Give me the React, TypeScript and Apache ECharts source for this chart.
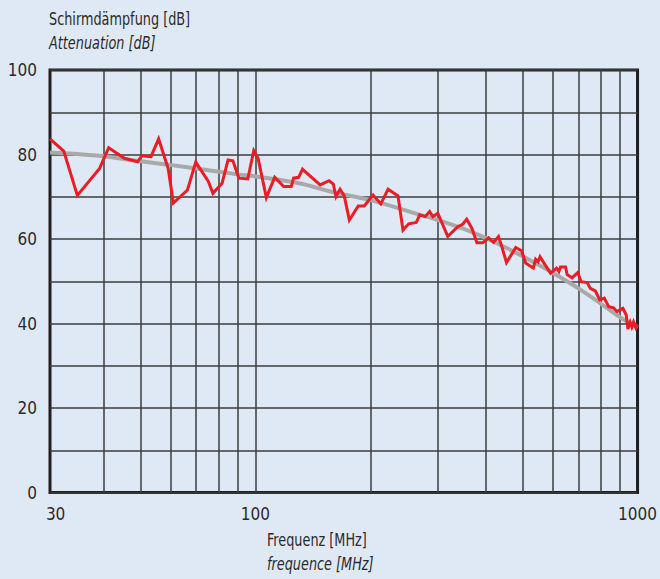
import React, { useEffect, useRef } from "react";
import * as echarts from "echarts";

// Measured attenuation curve (frequency in MHz, attenuation in dB)
const redFreq = [
  29, 31.5, 34.2, 39.1, 41.3, 45.4, 49.2, 50.4, 53.3, 55.8, 59.1, 61.0, 66.4, 69.8, 75.3, 77.4,
  81.8, 84.8, 87.3, 90.5, 95.5, 99.0, 101.6, 106.8, 112.3, 118.5, 124.1, 125.8, 129.7, 132.8,
  147.7, 155.8, 159.9, 162.5, 166.5, 170.8, 176.1, 185.8, 192.6, 203.2, 212.9, 222.4, 236.1,
  243.3, 251.8, 263.6, 269.0, 278.2, 285.6, 291.3, 300.1, 318.7, 338.4, 348.7, 357.2, 368.7,
  379.9, 393.1, 407.5, 419.9, 432.7, 441.4, 454.0, 480.0, 497.0, 509.6, 533.6, 541.1, 549.0,
  555.6, 569.1, 592.1, 613.8, 622.7, 628.7, 647.8, 654.4, 674.3, 697.8, 711.6, 737.9, 752.6,
  775.5, 796.2, 818.5, 840.4, 866.0, 883.4, 915.7, 934.1, 943.6, 956.6, 966.3, 976.3, 989.9, 1000,
];
const redValues = [
  83.7, 80.8, 70.3, 76.7, 81.6, 79.1, 78.3, 79.7, 79.5, 83.7, 76.7, 68.5, 71.6, 78.2, 73.6, 70.8,
  73.2, 78.7, 78.5, 74.4, 74.2, 80.9, 79.1, 69.8, 74.6, 72.4, 72.4, 74.4, 74.6, 76.5,
  72.8, 73.8, 73.0, 70.0, 71.8, 70.2, 64.5, 67.8, 67.8, 70.4, 68.3, 71.8, 70.2,
  62.1, 63.6, 63.9, 65.7, 65.3, 66.5, 65.3, 66.1, 60.6, 62.9, 63.5, 64.7, 62.5,
  59.1, 59.1, 60.3, 59.2, 60.6, 58.2, 54.4, 58.0, 57.2, 54.3, 53.1, 55.2, 54.6,
  55.8, 54.3, 51.9, 53.1, 52.3, 53.4, 53.4, 51.6, 50.8, 52.1, 49.9, 49.7, 48.3,
  47.7, 45.6, 46.0, 44.0, 43.7, 42.8, 43.6, 42.0, 38.7, 40.3, 39.2, 40.4, 39.0, 39.8,
];

// Smoothed trend curve
const trendFreq = [29, 39, 49, 59, 70, 90, 100, 130, 158, 200, 266, 300, 374, 456, 500, 592, 723, 883, 1000];
const trendValues = [80.5, 79.7, 78.5, 77.6, 76.7, 75.3, 74.8, 73.2, 71.2, 69.2, 65.9, 64.5, 61.4, 57.8, 55.9, 52.3, 47.5, 42.0, 38.9];

// Axis configuration
const freqMin = 29;
const freqMax = 1000;
const gridFreqs = [40, 50, 60, 70, 80, 90, 100, 200, 300, 400, 500, 600, 700, 800, 900];
const freqLabels = [30, 100, 1000];
const yTickLabels = [0, 20, 40, 60, 80, 100];

const FONT = "'Liberation Sans Narrow', 'DejaVu Sans Condensed', 'Roboto Condensed', 'Liberation Sans', sans-serif";
const TEXT = "#2a2a2a";
const BG = "#dfe9f6";
const SX = 0.84;

export default function App() {
  const ref = useRef<HTMLDivElement>(null);
  useEffect(() => {
    document.body.style.margin = "0";
    if (!ref.current) return;
    const chart = echarts.init(ref.current, undefined, { renderer: "svg" });
    const lg = (f: number) => Math.log10(f);
    const label = (text: string, x: number, y: number, italic: boolean) => ({
      type: "text",
      x,
      y,
      scaleX: SX,
      style: {
        text,
        fill: TEXT,
        font: `${italic ? "italic " : ""}17px ${FONT}`,
        textVerticalAlign: "middle",
        textAlign: "left",
      },
    });
    chart.setOption({
      animation: false,
      backgroundColor: BG,
      grid: {
        left: 50,
        right: 19.3,
        top: 70,
        bottom: 86.5,
        show: true,
        borderColor: "#1e1e1e",
        borderWidth: 3,
        backgroundColor: "transparent",
      },
      xAxis: {
        type: "value",
        min: lg(freqMin),
        max: lg(freqMax),
        axisLine: { show: false },
        axisTick: { show: false, customValues: gridFreqs.map(lg) },
        splitLine: { show: true, lineStyle: { color: "#3c3c3c", width: 1.5 } },
        axisLabel: {
          customValues: freqLabels.map(lg),
          formatter: (v: number) => String(Math.round(Math.pow(10, v))),
          color: TEXT,
          fontFamily: FONT,
          fontSize: 17,
          margin: 13,
          showMinLabel: true,
          showMaxLabel: true,
        },
      },
      yAxis: {
        type: "value",
        min: 0,
        max: 100,
        interval: 10,
        axisLine: { show: false },
        axisTick: { show: false },
        splitLine: { show: true, lineStyle: { color: "#3c3c3c", width: 1.5 } },
        axisLabel: {
          formatter: (v: number) => (yTickLabels.includes(v) ? String(v) : ""),
          color: TEXT,
          fontFamily: FONT,
          fontSize: 17,
          margin: 13,
        },
      },
      series: [
        {
          type: "line",
          data: trendFreq.map((f, i) => [lg(f), trendValues[i]]),
          smooth: 0.4,
          showSymbol: false,
          lineStyle: { color: "#a9a9a9", width: 4 },
          z: 2,
        },
        {
          type: "line",
          data: redFreq.map((f, i) => [lg(f), redValues[i]]),
          showSymbol: false,
          lineStyle: { color: "#ec1c24", width: 3, join: "miter" },
          z: 3,
        },
      ],
      graphic: [
        label("Schirmdämpfung [dB]", 49, 19, false),
        label("Attenuation [dB]", 49, 43, true),
        label("Frequenz [MHz]", 267, 540, false),
        label("frequence [MHz]", 267, 564, true),
      ],
    });
    return () => chart.dispose();
  }, []);
  return <div ref={ref} style={{ width: 660, height: 579, background: BG }} />;
}
